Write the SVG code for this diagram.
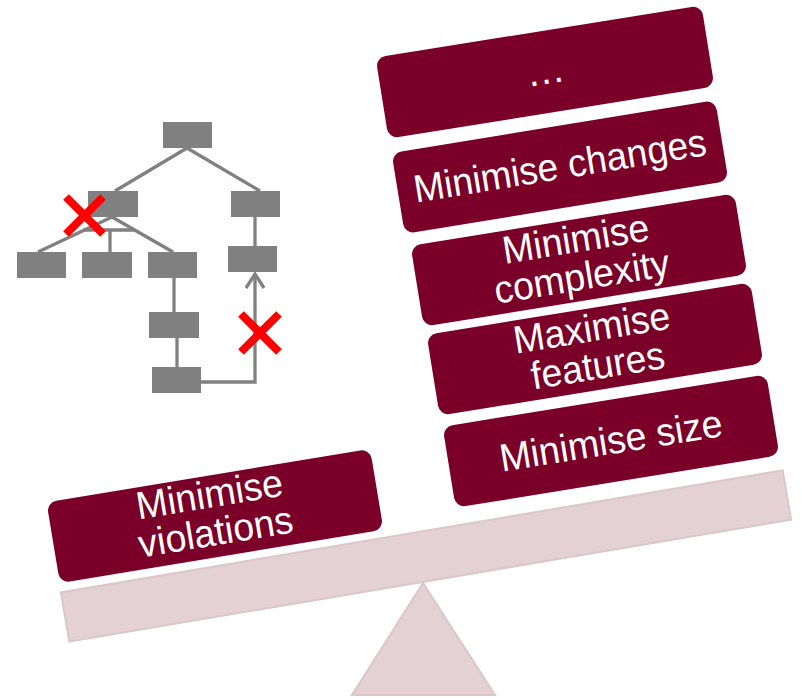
<svg xmlns="http://www.w3.org/2000/svg" width="802" height="698" viewBox="0 0 802 698">
<style>
.box{fill:#7a0029}
.lbl{fill:#ffffff;font-family:"Liberation Sans",Arial,sans-serif;font-size:39px;text-anchor:middle}
.tn{fill:#808080}
.ed{stroke:#808080;stroke-width:3.3;fill:none}
.x{stroke:#ff0000;stroke-width:8;fill:none}
.base{fill:#e3d1d4;stroke:#dcc6ca;stroke-width:2}
</style>
<g id="fulcrum"><polygon class="base" points="423,583 352,695 495,695"/></g>
<g id="beam"><rect class="base" x="60" y="531" width="732" height="50" transform="rotate(-9.6 426 556)"/></g>

<g id="tree">
<rect class="tn" x="163" y="122" width="49" height="26"/>
<rect class="tn" x="88" y="191" width="50" height="26"/>
<rect class="tn" x="231" y="191" width="49" height="26"/>
<rect class="tn" x="17" y="252" width="49" height="26"/>
<rect class="tn" x="82" y="252" width="50" height="26"/>
<rect class="tn" x="148" y="252" width="49" height="26"/>
<rect class="tn" x="228" y="246" width="49" height="26"/>
<rect class="tn" x="149" y="312" width="50" height="26"/>
<rect class="tn" x="152" y="367" width="49" height="26"/>
</g>
<g id="connectors">
<line class="ed" x1="187" y1="148" x2="115" y2="191"/>
<line class="ed" x1="187" y1="148" x2="260" y2="191"/>
<line class="ed" x1="112" y1="217" x2="38" y2="252"/>
<line class="ed" x1="112" y1="217" x2="173" y2="252"/>
<line class="ed" x1="83" y1="230" x2="135" y2="230"/>
<line class="ed" x1="110" y1="230" x2="110" y2="252"/>
<line class="ed" x1="255" y1="217" x2="255" y2="246"/>
<line class="ed" x1="174" y1="278" x2="174" y2="312"/>
<line class="ed" x1="177" y1="338" x2="177" y2="367"/>
<polyline class="ed" points="201,382 255,382 255,274"/>
<polyline class="ed" points="246,288 255,274 264,288"/>
<path class="x" d="M66,197 L103,234 M103,197 L66,234"/>
<path class="x" d="M241,314 L279,352 M279,314 L241,352"/>
</g>

<g id="violations" transform="rotate(-9.4 215 516)">
<rect class="box" x="51" y="475" width="328" height="82" rx="10"/>
<text class="lbl" x="213" y="507" textLength="148" lengthAdjust="spacingAndGlyphs">Minimise</text>
<text class="lbl" x="213" y="545" textLength="156" lengthAdjust="spacingAndGlyphs">violations</text>
</g>
<g id="size" transform="rotate(-9.2 611 441)">
<rect class="box" x="447" y="400" width="328" height="82" rx="10"/>
<text class="lbl" x="611" y="454" textLength="225" lengthAdjust="spacingAndGlyphs">Minimise size</text>
</g>
<g id="features" transform="rotate(-9.2 595 349)">
<rect class="box" x="431" y="308" width="328" height="82" rx="10"/>
<text class="lbl" x="595" y="341" textLength="158" lengthAdjust="spacingAndGlyphs">Maximise</text>
<text class="lbl" x="595" y="379" textLength="135" lengthAdjust="spacingAndGlyphs">features</text>
</g>
<g id="complexity" transform="rotate(-9.2 579 260)">
<rect class="box" x="415" y="219" width="328" height="82" rx="10"/>
<text class="lbl" x="579" y="252" textLength="148" lengthAdjust="spacingAndGlyphs">Minimise</text>
<text class="lbl" x="579" y="290" textLength="177" lengthAdjust="spacingAndGlyphs">complexity</text>
</g>
<g id="changes" transform="rotate(-9.3 560 167)">
<rect class="box" x="396" y="126" width="328" height="82" rx="10"/>
<text class="lbl" x="560" y="179" textLength="296" lengthAdjust="spacingAndGlyphs">Minimise changes</text>
</g>
<g id="more" transform="rotate(-9.1 545 72)">
<rect class="box" x="380" y="31" width="330" height="82" rx="10"/>
<text class="lbl" x="545" y="84">…</text>
</g>
</svg>
